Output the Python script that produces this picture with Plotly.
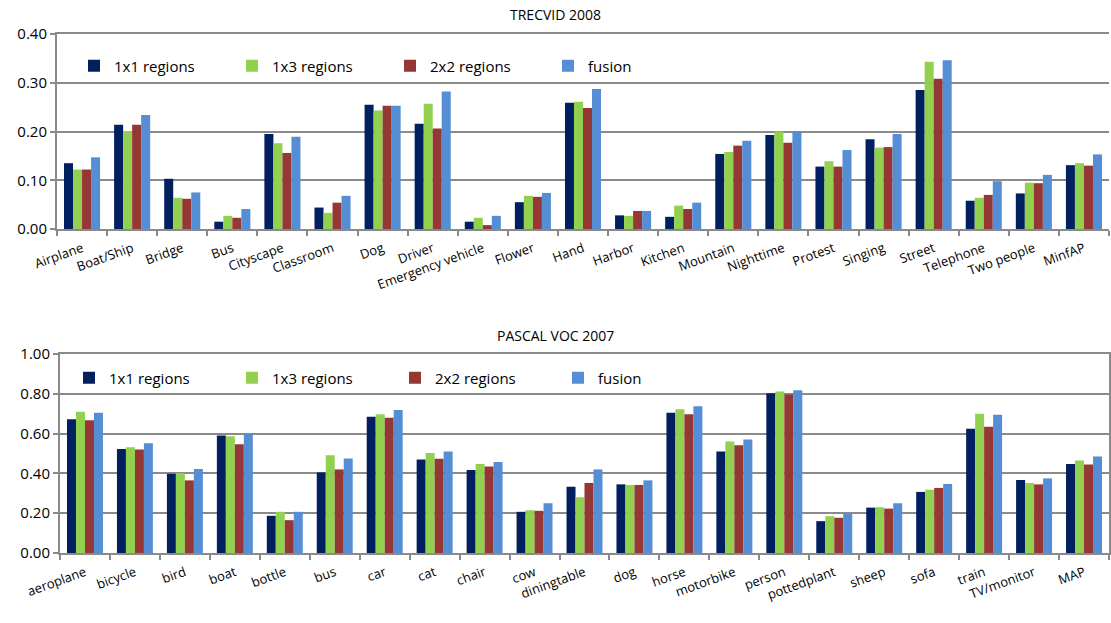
import plotly.graph_objects as go

# ---------------- data ----------------
series_names = ["1x1 regions", "1x3 regions", "2x2 regions", "fusion"]
series_colors = ["#022060", "#92D050", "#953735", "#558ED5"]

cats_trecvid = ["Airplane", "Boat/Ship", "Bridge", "Bus", "Cityscape", "Classroom", "Dog",
                "Driver", "Emergency vehicle", "Flower", "Hand", "Harbor", "Kitchen",
                "Mountain", "Nighttime", "Protest", "Singing", "Street", "Telephone",
                "Two people", "MinfAP"]
trec_1x1 = [0.135, 0.214, 0.103, 0.015, 0.195, 0.044, 0.255, 0.216, 0.015, 0.055, 0.259,
            0.028, 0.025, 0.154, 0.193, 0.128, 0.184, 0.285, 0.058, 0.073, 0.131]
trec_1x3 = [0.122, 0.201, 0.064, 0.027, 0.176, 0.033, 0.243, 0.257, 0.023, 0.068, 0.261,
            0.027, 0.048, 0.158, 0.200, 0.139, 0.167, 0.343, 0.064, 0.095, 0.135]
trec_2x2 = [0.122, 0.214, 0.062, 0.023, 0.156, 0.054, 0.253, 0.206, 0.008, 0.066, 0.248,
            0.037, 0.041, 0.171, 0.177, 0.128, 0.168, 0.308, 0.070, 0.094, 0.130]
trec_fusion = [0.147, 0.234, 0.075, 0.041, 0.189, 0.068, 0.253, 0.282, 0.027, 0.074, 0.287,
               0.037, 0.054, 0.181, 0.201, 0.162, 0.195, 0.346, 0.098, 0.111, 0.153]

cats_pascal = ["aeroplane", "bicycle", "bird", "boat", "bottle", "bus", "car", "cat", "chair",
               "cow", "diningtable", "dog", "horse", "motorbike", "person", "pottedplant",
               "sheep", "sofa", "train", "TV/monitor", "MAP"]
pas_1x1 = [0.672, 0.523, 0.398, 0.590, 0.187, 0.405, 0.685, 0.470, 0.417, 0.207, 0.333,
           0.345, 0.705, 0.510, 0.803, 0.160, 0.228, 0.307, 0.625, 0.367, 0.447]
pas_1x3 = [0.710, 0.532, 0.402, 0.587, 0.207, 0.491, 0.697, 0.502, 0.447, 0.215, 0.280,
           0.342, 0.722, 0.560, 0.812, 0.185, 0.230, 0.318, 0.700, 0.352, 0.465]
pas_2x2 = [0.667, 0.520, 0.365, 0.547, 0.165, 0.420, 0.680, 0.473, 0.435, 0.212, 0.352,
           0.342, 0.697, 0.542, 0.797, 0.177, 0.223, 0.327, 0.635, 0.345, 0.445]
pas_fusion = [0.705, 0.552, 0.422, 0.600, 0.207, 0.475, 0.718, 0.510, 0.457, 0.250, 0.420,
              0.365, 0.738, 0.570, 0.818, 0.197, 0.250, 0.347, 0.695, 0.375, 0.485]

title_top = "TRECVID 2008"
title_bottom = "PASCAL VOC 2007"

# ---------------- figure ----------------
W, H = 1111, 623
FONT = "Open Sans"
GRID = "#8A8A8A"

fig = go.Figure()

top_series = [trec_1x1, trec_1x3, trec_2x2, trec_fusion]
bot_series = [pas_1x1, pas_1x3, pas_2x2, pas_fusion]

for name, col, vals in zip(series_names, series_colors, top_series):
    fig.add_trace(go.Bar(x=cats_trecvid, y=vals, name=name, marker_color=col,
                         marker_line_width=0, xaxis="x", yaxis="y", legend="legend"))
for name, col, vals in zip(series_names, series_colors, bot_series):
    fig.add_trace(go.Bar(x=cats_pascal, y=vals, name=name, marker_color=col,
                         marker_line_width=0, xaxis="x2", yaxis="y2", legend="legend2"))


def px_x(p):
    return p / W


def px_y(p):
    return (H - p) / H


xcommon = dict(type="category", showgrid=False, showline=True, linecolor=GRID, linewidth=2,
               ticks="outside", tickson="boundaries", ticklen=5, tickcolor=GRID, tickwidth=1.5,
               tickangle=-20, tickfont=dict(family=FONT, size=13, color="#000000"),
               ticklabelstandoff=5, automargin=False, mirror=True)
ycommon = dict(showgrid=True, gridcolor=GRID, gridwidth=2, showline=True, linecolor=GRID,
               linewidth=2, ticks="outside", ticklen=5, tickcolor=GRID, tickwidth=1.5,
               tickformat=".2f", tickfont=dict(family=FONT, size=15, color="#000000"),
               automargin=False, zeroline=False)

legcommon = dict(orientation="h", xanchor="left", yanchor="middle",
                 entrywidthmode="pixels", bgcolor="rgba(0,0,0,0)",
                 font=dict(family=FONT, size=15, color="#000000"), traceorder="normal",
                 itemclick=False)

fig.update_layout(
    width=W, height=H,
    margin=dict(l=0, r=0, t=0, b=0),
    paper_bgcolor="white", plot_bgcolor="white",
    barmode="group", bargap=0.28, bargroupgap=0.0,
    showlegend=True,
    xaxis=dict(domain=[px_x(57), px_x(1109)], anchor="y", **xcommon),
    yaxis=dict(domain=[px_y(229), px_y(34)], anchor="x", range=[0, 0.4], dtick=0.1,
               mirror=False, **ycommon),
    xaxis2=dict(domain=[px_x(60), px_x(1109)], anchor="y2", **xcommon),
    yaxis2=dict(domain=[px_y(553), px_y(354)], anchor="x2", range=[0, 1.0], dtick=0.2,
                mirror=True, **ycommon),
    legend=dict(x=px_x(74), y=px_y(66), entrywidth=113, **legcommon),
    legend2=dict(x=px_x(69), y=px_y(378), entrywidth=118, **legcommon),
    annotations=[
        dict(text=title_top, x=0.5, y=px_y(14), xref="paper", yref="paper", showarrow=False,
             font=dict(family=FONT, size=14, color="#000000"), xanchor="center", yanchor="middle"),
        dict(text=title_bottom, x=0.5, y=px_y(335), xref="paper", yref="paper", showarrow=False,
             font=dict(family=FONT, size=14, color="#000000"), xanchor="center", yanchor="middle"),
    ],
)

fig.write_html("out.html", config={"displayModeBar": False},
               post_script="document.body.style.margin='0';document.body.style.overflow='hidden';")
